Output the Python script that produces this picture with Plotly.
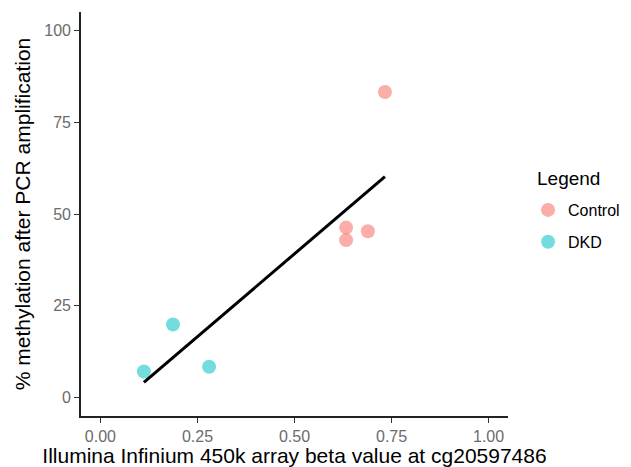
import numpy as np
import plotly.graph_objects as go

groups = ["Control", "DKD"]
control_x = [0.733, 0.633, 0.633, 0.689]
control_y = [83.2, 46.3, 42.9, 45.3]
dkd_x = [0.112, 0.187, 0.280]
dkd_y = [7.1, 19.9, 8.4]
x_ticks = [0.0, 0.25, 0.5, 0.75, 1.0]
y_ticks = [0, 25, 50, 75, 100]

all_x = np.array(control_x + dkd_x)
all_y = np.array(control_y + dkd_y)
slope, intercept = np.polyfit(all_x, all_y, 1)
line_x = np.array([all_x.min(), all_x.max()])
line_y = slope * line_x + intercept

fig = go.Figure()
fig.add_trace(go.Scatter(x=control_x, y=control_y, mode="markers", name=groups[0],
                         legendgroup="c",
                         marker=dict(color="#F8766D", size=14, opacity=0.6, line=dict(width=0))))
fig.add_trace(go.Scatter(x=dkd_x, y=dkd_y, mode="markers", name=groups[1],
                         legendgroup="d",
                         marker=dict(color="#00BFC4", size=14, opacity=0.55, line=dict(width=0))))
fig.add_trace(go.Scatter(x=line_x, y=line_y, mode="lines", showlegend=False,
                         line=dict(color="black", width=3)))

axis_common = dict(showgrid=False, zeroline=False, showline=True, linecolor="#222222",
                   linewidth=1.6, ticks="outside", ticklen=5, tickcolor="#333333",
                   tickwidth=1.2, tickfont=dict(size=16, color="#6b6b6b"),
                   mirror=False, automargin=False)

fig.update_layout(
    width=623, height=459,
    margin=dict(l=73, r=123, t=4, b=51, autoexpand=False),
    paper_bgcolor="white", plot_bgcolor="white",
    font=dict(family="Liberation Sans, Arial, sans-serif", color="black"),
    xaxis=dict(range=[-0.05, 1.05], tickvals=x_ticks, tickformat=".2f",
               title=dict(text="Illumina Infinium 450k array beta value at cg20597486",
                          font=dict(size=21), standoff=5), **axis_common),
    yaxis=dict(range=[-5, 105], tickvals=y_ticks,
               title=dict(text="% methylation after PCR amplification",
                          font=dict(size=21), standoff=8), **axis_common),
    legend=dict(x=1.047, xanchor="left", y=0.552, yanchor="top",
                font=dict(size=16), tracegroupgap=8, traceorder="grouped"),
    annotations=[dict(text="Legend", x=1.064, y=0.589, xref="paper", yref="paper",
                      xanchor="left", yanchor="middle", showarrow=False,
                      font=dict(size=19, color="black"))],
)

fig.write_html("out.html")
